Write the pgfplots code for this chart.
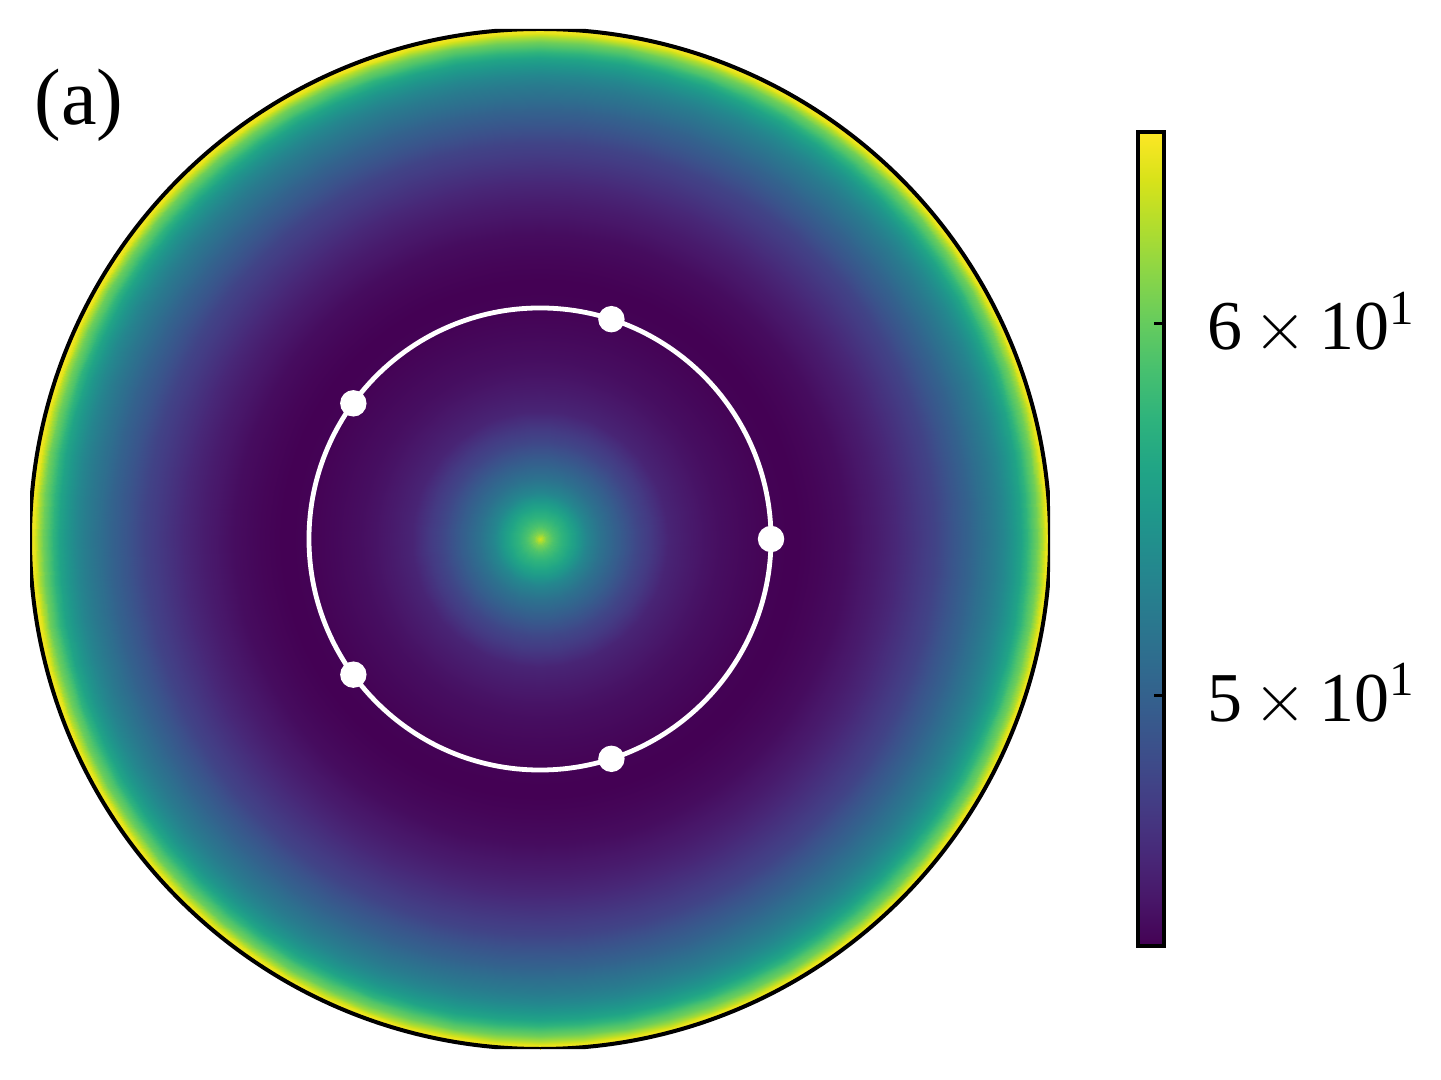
\documentclass[border=0pt]{standalone}
\usepackage{fontspec}
\setmainfont{Liberation Serif}
\usepackage{pgfplots}
\pgfplotsset{compat=1.18}
\usepackage{pgfplotstable}
\usepackage{etoolbox}

% radial profile of the plotted quantity (r in disk radii)
\pgfplotstableread{
r     v
0.000 64.10
0.012 60.86
0.025 58.95
0.040 57.55
0.057 56.19
0.075 54.64
0.090 53.13
0.120 51.26
0.155 49.65
0.190 48.09
0.220 47.14
0.250 46.03
0.290 45.47
0.320 45.11
0.350 44.84
0.400 44.54
0.440 44.33
0.480 44.22
0.510 44.22
0.547 44.40
0.598 44.75
0.655 45.47
0.700 46.21
0.743 47.14
0.777 47.90
0.810 49.06
0.840 50.05
0.865 51.06
0.890 52.09
0.910 53.13
0.928 54.42
0.943 55.74
0.955 57.32
0.965 58.95
0.975 60.38
0.984 62.59
0.992 64.88
1.000 65.92
}\profile

% the map is rotationally symmetric: repeat each radius over the angles
\pgfplotstablegetrowsof{\profile}
\pgfmathtruncatemacro\nlast{\pgfplotsretval-1}
\def\gridrows{}
\foreach \i in {0,...,\nlast}{%
  \pgfplotstablegetelem{\i}{r}\of\profile \let\rr\pgfplotsretval
  \pgfplotstablegetelem{\i}{v}\of\profile \let\vv\pgfplotsretval
  \foreach \t in {0,5,...,360}{%
    \xappto\gridrows{\rr\space\t\space\vv\noexpand\\}%
  }%
}
\edef\tmp{\noexpand\pgfplotstableread[row sep=\noexpand\\]{r t v\noexpand\\\unexpanded\expandafter{\gridrows}}\noexpand\polar}
\tmp

\newcommand\tickfont{\fontsize{17.5}{20}\selectfont}
\newcommand\panelfont{\fontsize{20}{24}\selectfont}

\begin{document}
\begin{tikzpicture}
\path[use as bounding box] (-7.5pt,-7.5pt) rectangle (352.75pt,262.25pt);
\begin{axis}[
  at={(0,0)}, anchor=south west,
  scale only axis, width=255pt, height=255pt,
  xmin=-1, xmax=1, ymin=-1, ymax=1, zmin=-1, zmax=1,
  view={0}{90},
  hide axis,
  colormap/viridis,
  point meta min=1.64551, point meta max=1.81902,
  colorbar,
  colorbar style={
    hide axis=false,
    at={(parent axis.east)}, anchor=west, xshift=13.5pt,
    width=6.5pt, height=203.5pt,
    ytick={1.69897,1.77815},
    yticklabels={{5\,$\times$\,10\textsuperscript{1}},{6\,$\times$\,10\textsuperscript{1}}},
    yticklabel style={font=\tickfont, xshift=7.25pt},
    ytick pos=right,
    tick align=inside,
    major tick length=2.5pt,
    tick style={line width=0.75pt, black},
    axis line style={line width=1pt, black},
  },
]
\addplot3[surf, shader=interp, mesh/cols=73, point meta={log10(\thisrow{v})}]
  table[x expr={\thisrow{r}*cos(\thisrow{t})}, y expr={\thisrow{r}*sin(\thisrow{t})}, z expr=0] {\polar};

\draw[white, line width=1.2pt] (axis cs:0,0,0) circle[radius=0.453];
\addplot3[only marks, mark=*, mark size=3.1pt, white] coordinates {
  (0.453,0,0) (0.140,0.431,0) (-0.366,0.266,0) (-0.366,-0.266,0) (0.140,-0.431,0)};
\draw[black, line width=1pt] (axis cs:0,0,0) circle[radius=1];
\end{axis}
\node[anchor=base west, inner sep=0pt, font=\panelfont] at (1.0pt,231pt) {(a)};
\end{tikzpicture}
\end{document}
